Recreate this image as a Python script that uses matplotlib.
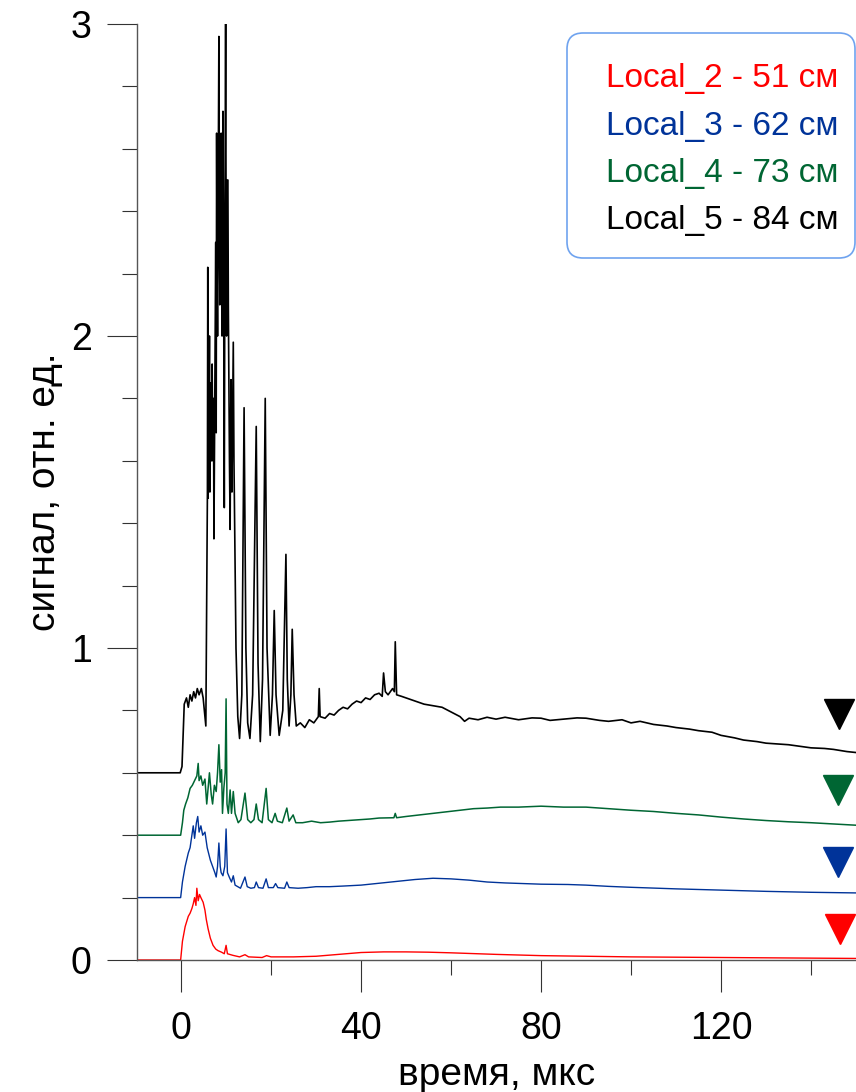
import matplotlib
matplotlib.use("Agg")
import matplotlib.pyplot as plt
from matplotlib.patches import FancyBboxPatch
from matplotlib.transforms import IdentityTransform

plt.rcParams['font.family'] = ['Liberation Sans', 'DejaVu Sans']

# Local_5 - 84 cm (black)
t5 = [-10, -0.2, 0.2, 0.7, 1.2, 1.6, 2.0, 2.4, 2.8, 3.2, 3.6, 4.0, 4.5, 4.9, 5.5,
      5.85, 5.93, 6.0, 6.1, 6.2, 6.3, 6.4, 6.5, 6.6, 6.75, 6.9, 7.0, 7.1, 7.2, 7.3,
      7.4, 7.5, 7.6, 7.7, 7.8, 7.9, 8.0, 8.1, 8.25, 8.4, 8.5, 8.6, 8.75, 8.9, 9.0,
      9.1, 9.2, 9.3, 9.45, 9.6, 9.75, 9.9, 10.0, 10.1, 10.25, 10.4, 10.5, 10.6,
      10.75, 10.9, 11.0, 11.1, 11.2, 11.3, 11.45, 11.6, 11.75, 11.9, 12.2, 12.6,
      13.0, 13.5, 14.0, 14.4, 14.8, 15.3, 15.9, 16.7, 17.1, 17.6, 18.1, 18.7, 19.1,
      19.8, 20.3, 20.7, 21.1, 21.8, 22.6, 23.3, 23.6, 24.0, 24.4, 24.7, 25.1, 25.6,
      26.5, 27.5, 28.5, 29.5, 30.5, 30.7, 30.9, 32, 33, 34, 35, 36, 37, 38, 39, 40,
      41, 42, 43, 44, 44.7, 45.0, 45.4, 46, 47, 47.4, 47.6, 47.9, 49, 50, 52, 54,
      56, 58, 60, 62, 63, 64, 66, 68, 70, 72, 75, 78, 80, 82, 85, 88, 90, 93, 95,
      98, 100, 102, 105, 108, 110, 113, 115, 118, 120, 123, 125, 128, 130, 133,
      135, 138, 140, 143, 145, 148, 150]
v5 = [0.6, 0.6, 0.62, 0.82, 0.84, 0.81, 0.85, 0.83, 0.86, 0.84, 0.87, 0.85, 0.87, 0.84, 0.75,
      1.5, 2.22, 1.48, 1.9, 1.75, 2.0, 1.5, 1.7, 1.85, 1.6, 1.91, 1.7, 1.6, 1.8, 1.35,
      1.6, 1.9, 2.1, 2.3, 1.69, 2.65, 2.2, 2.0, 2.5, 2.96, 2.3, 2.1, 2.4, 2.65, 2.2,
      2.0, 2.45, 2.72, 2.2, 1.45, 2.4, 3.0, 2.4, 2.0, 2.5, 2.5, 2.1, 1.9,
      1.6, 1.38, 1.7, 1.86, 1.6, 1.5, 1.75, 1.98, 1.6, 1.4, 1.0, 0.78,
      0.71, 0.85, 1.77, 1.0, 0.76, 0.71, 0.85, 1.71, 0.95, 0.7, 0.9, 1.80, 1.0,
      0.72, 0.85, 1.12, 0.85, 0.72, 0.8, 1.30, 0.9, 0.75, 0.85, 1.06, 0.85, 0.75,
      0.76, 0.745, 0.77, 0.76, 0.78, 0.87, 0.78, 0.775, 0.79, 0.785, 0.80, 0.81, 0.805, 0.82, 0.83, 0.825,
      0.84, 0.835, 0.85, 0.855, 0.845, 0.92, 0.86, 0.85, 0.87, 0.86, 1.02, 0.85, 0.845, 0.84, 0.83, 0.82,
      0.815, 0.81, 0.795, 0.78, 0.765, 0.775, 0.77, 0.778, 0.772, 0.778, 0.77, 0.776, 0.775, 0.768, 0.772, 0.776, 0.775, 0.768, 0.765,
      0.77, 0.76, 0.765, 0.755, 0.75, 0.745, 0.74, 0.735, 0.73, 0.72, 0.712, 0.705, 0.70, 0.695, 0.692,
      0.69, 0.684, 0.68, 0.678, 0.675, 0.668, 0.665]

# Local_4 - 73 cm (green)
t4 = [-10, -0.1, 0.3, 0.6, 1.0, 1.5, 2.0, 2.5, 3.0, 3.5, 3.8, 4.0, 4.4, 4.8, 5.3, 5.7,
      6.3, 6.7, 7.0, 7.4, 7.8, 8.1, 8.4, 8.7, 9.0, 9.2, 9.5, 9.8, 10.0, 10.2, 10.5,
      10.9, 11.2, 11.6, 12.0, 12.7, 13.3, 14.2, 14.8, 15.5, 16.2, 16.7, 17.2, 18.0,
      18.9, 19.4, 20.2, 20.9, 21.4, 22.5, 23.5, 24.0, 24.9, 25.5, 27, 29, 31, 33, 35,
      38, 40, 42, 44, 47.3, 47.6, 47.9, 50, 53, 56, 59, 62, 65, 68, 71, 75, 80, 85,
      90, 95, 100, 105, 110, 115, 120, 125, 130, 135, 140, 145, 150]
v4 = [0.4, 0.4, 0.44, 0.48, 0.50, 0.52, 0.55, 0.56, 0.575, 0.59, 0.63, 0.575, 0.59, 0.56, 0.58, 0.50,
      0.60, 0.53, 0.50, 0.56, 0.54, 0.60, 0.69, 0.57, 0.61, 0.47, 0.55, 0.6, 0.837, 0.5, 0.47,
      0.545, 0.47, 0.54, 0.47, 0.44, 0.45, 0.535, 0.45, 0.44, 0.45, 0.50, 0.45, 0.44,
      0.55, 0.45, 0.44, 0.47, 0.445, 0.44, 0.487, 0.445, 0.465, 0.44, 0.44, 0.445, 0.44, 0.442, 0.445,
      0.448, 0.45, 0.452, 0.455, 0.456, 0.47, 0.456, 0.46, 0.465, 0.47, 0.475, 0.48, 0.485, 0.487, 0.49, 0.49, 0.493, 0.49,
      0.49, 0.485, 0.48, 0.476, 0.47, 0.465, 0.458, 0.452, 0.447, 0.443, 0.44, 0.436, 0.432]

# Local_3 - 62 cm (blue)
t3 = [-10, -0.1, 0.3, 0.9, 1.6, 2.0, 2.4, 2.7, 3.0, 3.4, 3.7, 4.0, 4.4, 4.8, 5.3, 5.8,
      6.5, 7.0, 7.5, 7.8, 8.1, 8.4, 8.7, 8.9, 9.3, 9.7, 10.0, 10.3, 10.7, 11.2, 11.6,
      12.0, 12.6, 13.2, 14.2, 14.7, 15.5, 16.3, 16.7, 17.2, 18.2, 18.9, 19.4, 20.5,
      21.0, 21.5, 23.0, 23.5, 24.0, 26, 28, 30, 33, 36, 40, 44, 48, 52, 56, 60, 64,
      68, 72, 76, 80, 86, 90, 95, 100, 106, 110, 115, 120, 125, 130, 140, 150]
v3 = [0.2, 0.2, 0.25, 0.30, 0.343, 0.36, 0.40, 0.43, 0.39, 0.44, 0.46, 0.41, 0.43, 0.40, 0.41, 0.36,
      0.32, 0.30, 0.28, 0.266, 0.30, 0.375, 0.30, 0.28, 0.27, 0.30, 0.42, 0.28, 0.266, 0.25, 0.27,
      0.24, 0.235, 0.23, 0.266, 0.235, 0.23, 0.232, 0.25, 0.232, 0.23, 0.26, 0.232, 0.232,
      0.245, 0.232, 0.23, 0.25, 0.232, 0.23, 0.232, 0.235, 0.235, 0.237, 0.24, 0.246, 0.252, 0.258, 0.262, 0.26, 0.256,
      0.25, 0.247, 0.245, 0.243, 0.242, 0.24, 0.236, 0.233, 0.23, 0.228, 0.226, 0.224, 0.222, 0.22, 0.217, 0.215]

# Local_2 - 51 cm (red)
t2 = [-10, -0.1, 0.3, 0.9, 1.6, 2.0, 2.4, 2.7, 3.0, 3.3, 3.5, 3.8, 4.1, 4.4, 4.9, 5.3,
      5.6, 6.0, 6.5, 7.1, 7.7, 8.2, 9.0, 9.6, 10.0, 10.3, 11.5, 13, 14.2, 15, 18, 19,
      20, 25, 30, 35, 40, 45, 50, 55, 60, 70, 80, 90, 100, 110, 120, 130, 140, 150]
v2 = [0, 0, 0.06, 0.107, 0.14, 0.15, 0.165, 0.18, 0.2, 0.175, 0.23, 0.19, 0.21, 0.2, 0.185, 0.16,
      0.13, 0.10, 0.07, 0.047, 0.035, 0.03, 0.025, 0.02, 0.047, 0.02, 0.015, 0.01, 0.017, 0.01, 0.008, 0.014,
      0.01, 0.01, 0.012, 0.018, 0.024, 0.026, 0.026, 0.025, 0.023, 0.018, 0.014, 0.012, 0.01, 0.009, 0.008, 0.007, 0.006, 0.005]

labels = ["Local_2 - 51 см", "Local_3 - 62 см", "Local_4 - 73 см", "Local_5 - 84 см"]
colors = ["#ff0000", "#003399", "#006633", "#000000"]
widths = [1.0, 1.0, 1.1, 1.2]
# triangle markers at right side
mark_t = [146.4, 146.0, 146.0, 146.2]
mark_v = [0.099, 0.314, 0.545, 0.79]

fig = plt.figure(figsize=(8.56, 10.92), dpi=100)
ax = fig.add_axes([137 / 856, 132 / 1092, 719 / 856, 936 / 1092])

series = [(t2, v2), (t3, v3), (t4, v4), (t5, v5)]
for (t, v), c, w in zip(series, colors, widths):
    ax.plot(t, v, color=c, lw=w)
for x, y, c in zip(mark_t, mark_v, colors):
    ax.plot([x], [y], marker="v", ms=22, color=c, mec=c, ls="none", clip_on=False)

ax.set_xlim(-9.8, 150)
ax.set_ylim(0, 3)
ax.set_xticks([0, 40, 80, 120])
ax.set_xticks([20, 60, 100, 140], minor=True)
ax.set_yticks([0, 1, 2, 3])
ax.set_yticks([0.2, 0.4, 0.6, 0.8, 1.2, 1.4, 1.6, 1.8, 2.2, 2.4, 2.6, 2.8], minor=True)
ax.tick_params(axis="x", which="major", direction="out", length=23, width=0.8, pad=14, labelsize=27, color="#333333")
ax.tick_params(axis="x", which="minor", direction="out", length=11, width=0.8, color="#333333")
ax.tick_params(axis="y", which="major", direction="out", length=21.5, width=0.8, pad=11, labelsize=27, color="#333333")
ax.tick_params(axis="y", which="minor", direction="out", length=11, width=0.8, color="#333333")
for s in ["top", "right"]:
    ax.spines[s].set_visible(False)
for s in ["left", "bottom"]:
    ax.spines[s].set_color("#555555")
    ax.spines[s].set_linewidth(1.0)

ax.set_xlabel("время, мкс", fontsize=28, labelpad=7)
ax.set_ylabel("сигнал, отн. ед.", fontsize=28, labelpad=6)

# legend box drawn in pixel coordinates
box = FancyBboxPatch((567, 1092 - 258), 288, 225, boxstyle="round,pad=0,rounding_size=16",
                     transform=IdentityTransform(), facecolor="white", edgecolor="#6fa3ef",
                     linewidth=1.2, zorder=5)
fig.patches.append(box)
baselines = [87, 135, 182, 229]
for lab, c, b in zip(labels, colors, baselines):
    fig.text(606 / 856, (1092 - b) / 1092, lab, color=c, fontsize=24, va="baseline", ha="left", zorder=6)

fig.savefig("out.png", dpi=100)
